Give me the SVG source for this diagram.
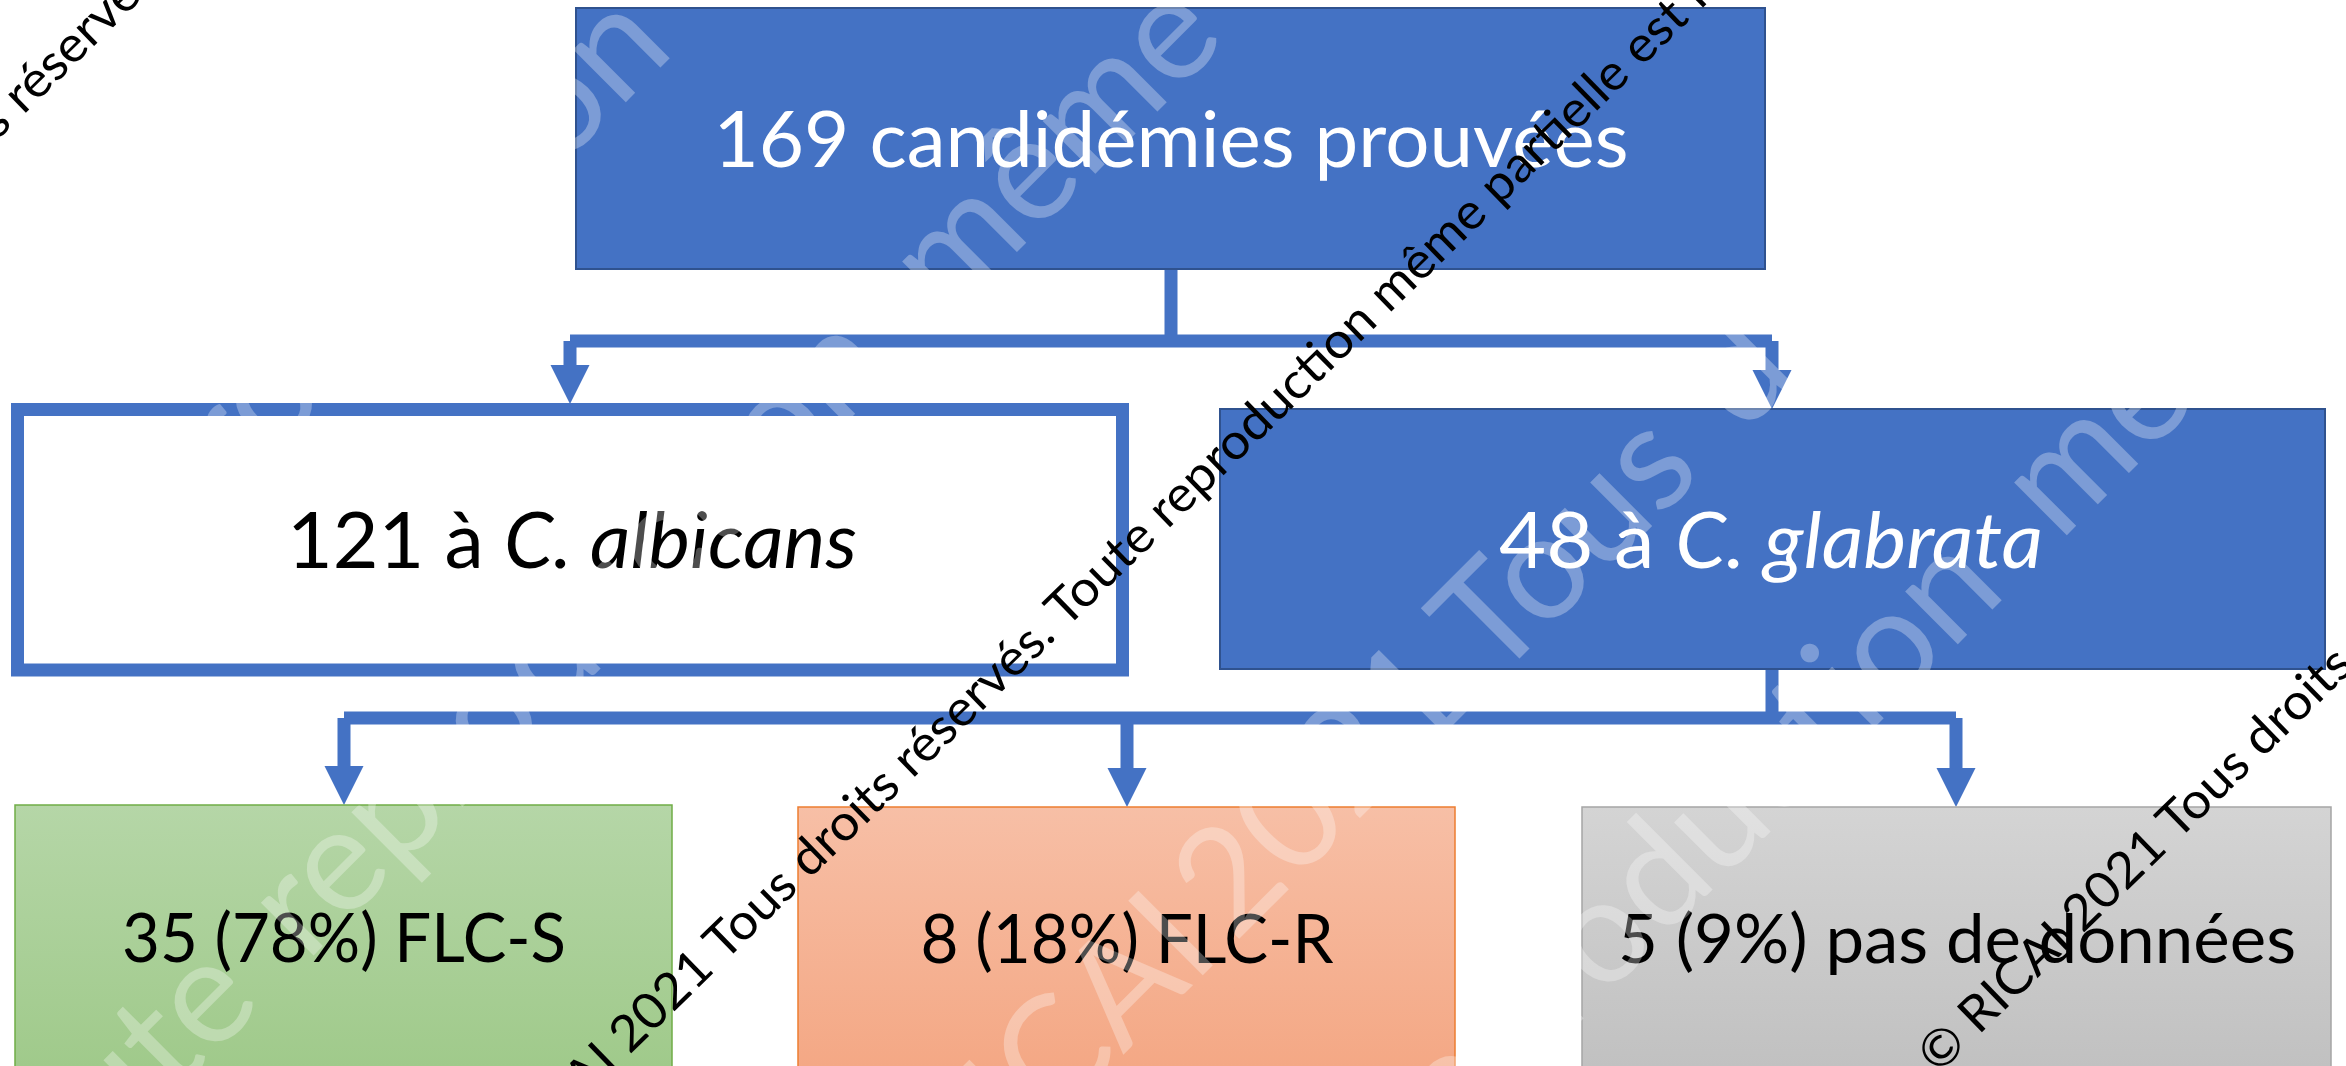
<svg xmlns="http://www.w3.org/2000/svg" width="2346" height="1066" viewBox="0 0 2346 1066">
<defs>
<style>
.blue{fill:#4472C4;stroke:#2F528F;stroke-width:2}
.main{font-family:Lato,"Open Sans","Liberation Sans",sans-serif;text-anchor:middle}
.big{font-size:78px}
.small{font-size:67px}
.conn{fill:none;stroke:#4472C4;stroke-width:13;stroke-linecap:butt}
.head{fill:#4472C4}
.wm{font-family:Lato,"Open Sans","Liberation Sans",sans-serif;font-size:50px;fill:#000}
.wmw{font-family:Lato,"Open Sans","Liberation Sans",sans-serif;font-size:147px;fill:#fff;fill-opacity:0.3}
</style>
<linearGradient id="gGreen" x1="0" y1="805" x2="0" y2="1066" gradientUnits="userSpaceOnUse">
<stop offset="0" stop-color="#B5D6A7"/><stop offset="1" stop-color="#A0CA8B"/>
</linearGradient>
<linearGradient id="gOrange" x1="0" y1="807" x2="0" y2="1066" gradientUnits="userSpaceOnUse">
<stop offset="0" stop-color="#F7BFA6"/><stop offset="1" stop-color="#F4A885"/>
</linearGradient>
<linearGradient id="gGray" x1="0" y1="807" x2="0" y2="1066" gradientUnits="userSpaceOnUse">
<stop offset="0" stop-color="#D4D4D4"/><stop offset="1" stop-color="#C1C1C1"/>
</linearGradient>
</defs>
<rect width="2346" height="1066" fill="#fff"/>

<g id="connectors">
<path class="conn" d="M1171,269 V341 M1171,341 H570 M570,341 V366 M1171,341 H1772 M1772,341 V371"/>
<polygon class="head" points="550.5,365 589.5,365 570,404"/>
<polygon class="head" points="1752.5,370 1791.5,370 1772,409"/>
<path class="conn" d="M1772,669 V718 M1772,718 H344 M344,718 V767 M1772,718 H1956 M1956,718 V769 M1127,718 V769"/>
<polygon class="head" points="324.5,766 363.5,766 344,805"/>
<polygon class="head" points="1107.5,768 1146.5,768 1127,807"/>
<polygon class="head" points="1936.5,768 1975.5,768 1956,807"/>
</g>

<g id="node-total">
<rect class="blue" x="576" y="8" width="1189" height="261"/>
<text class="main big" x="1171" y="167" fill="#fff" textLength="915" lengthAdjust="spacingAndGlyphs">169 candidémies prouvées</text>
</g>

<g id="node-albicans">
<rect x="17.5" y="409.5" width="1105" height="260.5" fill="#fff" stroke="#4472C4" stroke-width="13"/>
<text class="main big" x="572" y="568" fill="#000" textLength="570" lengthAdjust="spacingAndGlyphs">121 à <tspan font-style="italic">C. albicans</tspan></text>
</g>

<g id="node-glabrata">
<rect class="blue" x="1220" y="409" width="1105" height="260"/>
<text class="main big" x="1771" y="568" fill="#fff" textLength="544" lengthAdjust="spacingAndGlyphs">48 à <tspan font-style="italic">C. glabrata</tspan></text>
</g>

<g id="node-flcs">
<rect x="15" y="805" width="657" height="280" fill="url(#gGreen)" stroke="#70AD47" stroke-width="1.5"/>
<text class="main small" x="344" y="962" fill="#000" textLength="444" lengthAdjust="spacingAndGlyphs">35 (78%) FLC-S</text>
</g>

<g id="node-flcr">
<rect x="798" y="807" width="657" height="280" fill="url(#gOrange)" stroke="#ED7D31" stroke-width="1.5"/>
<text class="main small" x="1127" y="963" fill="#000" textLength="413" lengthAdjust="spacingAndGlyphs">8 (18%) FLC-R</text>
</g>

<g id="node-nodata">
<rect x="1582" y="807" width="749" height="280" fill="url(#gGray)" stroke="#A5A5A5" stroke-width="1.5"/>
<text class="main small" x="1957" y="963" fill="#000" textLength="678" lengthAdjust="spacingAndGlyphs">5 (9%) pas de données</text>
</g>

<g id="watermark-faint">
<text class="wmw" transform="translate(-1847,2575) rotate(-45)"><tspan x="2734">reproduction</tspan></text>
<text class="wmw" transform="translate(-1627,2896) rotate(-45)"><tspan x="2311">Toute</tspan><tspan x="2734">reproduction</tspan><tspan x="3641">même</tspan></text>
<text class="wmw" transform="translate(856,1322) rotate(-45)"><tspan x="146">RICAI</tspan><tspan x="535">2021</tspan><tspan x="902">Tous</tspan><tspan x="1254">droits</tspan></text>
<text class="wmw" transform="translate(-515,3117) rotate(-45)"><tspan x="2734">reproduction</tspan><tspan x="3641">même</tspan></text>
</g>

<g id="watermark">
<text class="wm" transform="translate(1938,1075) rotate(-44.3)" textLength="1903" lengthAdjust="spacingAndGlyphs">© RICAI 2021 Tous droits réservés. Toute reproduction même partielle est interdite.</text>
<text class="wm" transform="translate(485,1196) rotate(-44.3)" textLength="1903" lengthAdjust="spacingAndGlyphs">© RICAI 2021 Tous droits réservés. Toute reproduction même partielle est interdite.</text>
<text class="wm" transform="translate(-404,532) rotate(-44.3)" textLength="1903" lengthAdjust="spacingAndGlyphs">© RICAI 2021 Tous droits réservés. Toute reproduction même partielle est interdite.</text>
</g>
</svg>
